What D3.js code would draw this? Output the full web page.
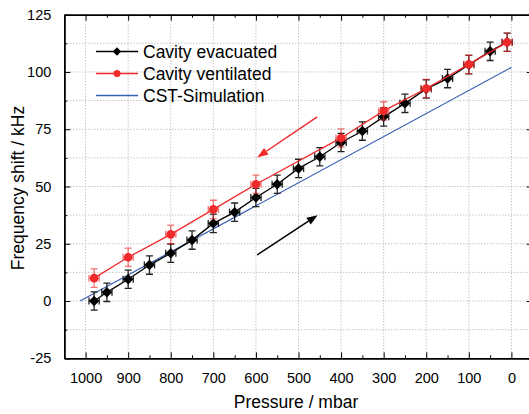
<!DOCTYPE html>
<html>
<head>
<meta charset="utf-8">
<script src="https://cdn.jsdelivr.net/npm/d3@7"></script>
<style>
  body { margin: 0; background: #fff; }
  svg { display: block; font-family: "Liberation Sans", Arial, sans-serif; }
</style>
</head>
<body>
<svg id="chart"></svg>
<script>
// Measured data (pressure in mbar, frequency shift in kHz)
const evacPressure = [980, 950, 900, 850, 800, 750, 700, 650, 600, 550, 500, 450, 400, 350, 300, 250, 200, 150, 100, 50, 10];
const evacShift = [0, 3.8, 9.5, 15.7, 20.9, 26.6, 33.9, 38.8, 45.2, 51.0, 57.9, 63.0, 69.2, 74.2, 80.4, 86.3, 92.6, 97.1, 103.2, 109.0, 113.0];
const ventPressure = [980, 900, 800, 700, 600, 400, 300, 200, 100, 10];
const ventShift = [10.0, 19.1, 29.1, 40.0, 51.0, 71.2, 83.0, 92.8, 103.3, 113.0];
const simPressure = [1013, 0];
const simShift = [0, 102];
const shiftError = 4;
const pressureError = 12;

// Arrows showing the direction of the pressure sweep
const arrowPressure = [[456, 597], [597, 455]];
const arrowShift = [[80.4, 62.7], [20.1, 37.5]];

const xTicks = [1000, 900, 800, 700, 600, 500, 400, 300, 200, 100, 0];
const yTicks = [-25, 0, 25, 50, 75, 100, 125];
const legendLabels = ["Cavity evacuated", "Cavity ventilated", "CST-Simulation"];

const width = 529, height = 414;
const red = "#f02a2a", blue = "#3a62b4";

const svg = d3.select("#chart")
  .attr("width", width)
  .attr("height", height);

// Scales (x axis runs from high to low pressure)
const x = d3.scaleLinear().domain([1050, -50]).range([64.3, 532.7]);
const y = d3.scaleLinear().domain([-25, 125]).range([358.3, 14.7]);

// Dotted grid
const grid = svg.append("g").attr("stroke", "#aaa").attr("stroke-dasharray", "1,2").attr("stroke-width", 1);
d3.range(-12.5, 125, 12.5).forEach(function(v) {
  grid.append("line").attr("x1", x(1050)).attr("x2", x(-50)).attr("y1", y(v)).attr("y2", y(v));
});
xTicks.forEach(function(p) {
  grid.append("line").attr("x1", x(p)).attr("x2", x(p)).attr("y1", y(-25)).attr("y2", y(125));
});

// Axes with inward ticks, minor ticks between majors
const minorX = d3.range(-50, 1051, 50).filter(p => p % 100 !== 0);
const minorY = d3.range(-12.5, 125, 25);
const plain = d => String(d);

function addAxis(axis, transform, labels) {
  const g = svg.append("g").attr("transform", transform).call(axis.tickFormat(plain));
  g.select(".domain").attr("stroke-width", 1.5);
  g.selectAll("text").style("font-size", "14.5px").attr("fill", "#000");
  if (!labels) g.selectAll("text").remove();
  return g;
}

addAxis(d3.axisBottom(x).tickValues(xTicks).tickSizeInner(-6).tickSizeOuter(0).tickPadding(14), "translate(0," + y(-25) + ")", true);
addAxis(d3.axisBottom(x).tickValues(minorX).tickSizeInner(-3).tickSizeOuter(0), "translate(0," + y(-25) + ")", false);
addAxis(d3.axisTop(x).tickValues(xTicks).tickSizeInner(-6).tickSizeOuter(0), "translate(0," + y(125) + ")", false);
addAxis(d3.axisTop(x).tickValues(minorX).tickSizeInner(-3).tickSizeOuter(0), "translate(0," + y(125) + ")", false);
addAxis(d3.axisLeft(y).tickValues(yTicks).tickSizeInner(-6).tickSizeOuter(0).tickPadding(13), "translate(" + x(1050) + ",0)", true);
addAxis(d3.axisLeft(y).tickValues(minorY).tickSizeInner(-3).tickSizeOuter(0), "translate(" + x(1050) + ",0)", false);
addAxis(d3.axisRight(y).tickValues(yTicks).tickSizeInner(-6).tickSizeOuter(0), "translate(" + x(-50) + ",0)", false);
addAxis(d3.axisRight(y).tickValues(minorY).tickSizeInner(-3).tickSizeOuter(0), "translate(" + x(-50) + ",0)", false);

// Axis titles
svg.append("text")
  .attr("x", 296)
  .attr("y", 407.5)
  .attr("text-anchor", "middle")
  .style("font-size", "17.5px")
  .text("Pressure / mbar");

svg.append("text")
  .attr("transform", "translate(24," + 188 + ") rotate(-90)")
  .attr("text-anchor", "middle")
  .style("font-size", "17.5px")
  .text("Frequency shift / kHz");

const line = d3.line().x(d => x(d[0])).y(d => y(d[1]));

// Simulation line
svg.append("path")
  .datum(d3.zip(simPressure, simShift))
  .attr("fill", "none")
  .attr("stroke", blue)
  .attr("stroke-width", 1.2)
  .attr("d", line);

// Error bars for a series
function errorBars(data, color) {
  const g = svg.append("g").attr("stroke", color).attr("stroke-width", 1.3).attr("fill", "none");
  data.forEach(function(d) {
    const cx = x(d[0]), cy = y(d[1]);
    const top = y(d[1] + shiftError), bottom = y(d[1] - shiftError);
    const left = x(d[0] + pressureError), right = x(d[0] - pressureError);
    g.append("path").attr("d",
      "M" + cx + "," + top + "V" + bottom +
      "M" + (cx - 3.5) + "," + top + "H" + (cx + 3.5) +
      "M" + (cx - 3.5) + "," + bottom + "H" + (cx + 3.5) +
      "M" + left + "," + cy + "H" + right +
      "M" + left + "," + (cy - 3.5) + "V" + (cy + 3.5) +
      "M" + right + "," + (cy - 3.5) + "V" + (cy + 3.5));
  });
}

const evacData = d3.zip(evacPressure, evacShift);
const ventData = d3.zip(ventPressure, ventShift);

// Evacuated series (black diamonds)
svg.append("path")
  .datum(evacData)
  .attr("fill", "none")
  .attr("stroke", "#000")
  .attr("stroke-width", 1.3)
  .attr("d", line);
errorBars(evacData, "#222");
svg.selectAll(".evac")
  .data(evacData)
  .enter().append("path")
  .attr("class", "evac")
  .attr("transform", d => "translate(" + x(d[0]) + "," + y(d[1]) + ")")
  .attr("d", d3.symbol(d3.symbolDiamond2, 70))
  .attr("fill", "#000");

// Ventilated series (red circles)
svg.append("path")
  .datum(ventData)
  .attr("fill", "none")
  .attr("stroke", red)
  .attr("stroke-width", 1.3)
  .attr("d", line);
errorBars(ventData, "rgba(240,42,42,0.65)");
svg.selectAll(".vent")
  .data(ventData)
  .enter().append("circle")
  .attr("class", "vent")
  .attr("cx", d => x(d[0]))
  .attr("cy", d => y(d[1]))
  .attr("r", 4.3)
  .attr("fill", red);

// Arrows
const arrowColors = [red, "#000"];
arrowPressure.forEach(function(p, i) {
  const x1 = x(p[0]), y1 = y(arrowShift[i][0]);
  const x2 = x(p[1]), y2 = y(arrowShift[i][1]);
  const angle = Math.atan2(y2 - y1, x2 - x1);
  const len = 11, half = 4;
  const bx = x2 - len * Math.cos(angle), by = y2 - len * Math.sin(angle);
  svg.append("line")
    .attr("x1", x1).attr("y1", y1).attr("x2", bx).attr("y2", by)
    .attr("stroke", arrowColors[i]).attr("stroke-width", 1.5);
  svg.append("path")
    .attr("d", "M" + x2 + "," + y2 +
      "L" + (bx + half * Math.sin(angle)) + "," + (by - half * Math.cos(angle)) +
      "L" + (bx - half * Math.sin(angle)) + "," + (by + half * Math.cos(angle)) + "Z")
    .attr("fill", arrowColors[i]);
});

// Legend
const legendColors = ["#000", red, blue];
const legend = svg.append("g");
legendLabels.forEach(function(label, i) {
  const ly = 51.5 + i * 22;
  legend.append("line")
    .attr("x1", 96).attr("x2", 138).attr("y1", ly).attr("y2", ly)
    .attr("stroke", legendColors[i]).attr("stroke-width", i === 2 ? 1.6 : 1.3);
  if (i === 0) {
    legend.append("path").attr("transform", "translate(117," + ly + ")")
      .attr("d", d3.symbol(d3.symbolDiamond2, 45)).attr("fill", "#000");
  } else if (i === 1) {
    legend.append("circle").attr("cx", 117).attr("cy", ly).attr("r", 3.5).attr("fill", red);
  }
  legend.append("text")
    .attr("x", 143)
    .attr("y", ly + 6.3)
    .style("font-size", "17.5px")
    .text(label);
});
</script>
</body>
</html>
